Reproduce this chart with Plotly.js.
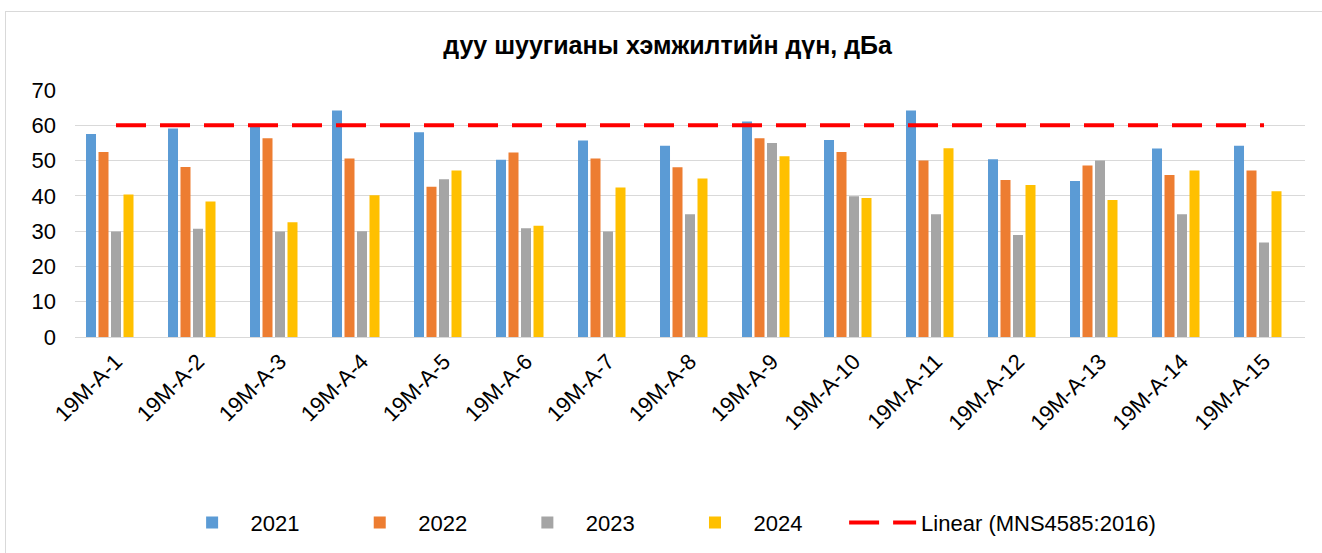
<!DOCTYPE html>
<html>
<head>
<meta charset="utf-8">
<script src="https://cdn.plot.ly/plotly-3.0.1.min.js"></script>
<style>
html,body{margin:0;padding:0;background:#fff;overflow:hidden;}
#wrap{position:relative;width:1322px;height:553px;}
#chart{position:absolute;left:0;top:0;width:1322px;height:553px;}
#frame{position:absolute;left:5px;top:11px;width:1330px;height:560px;border:1px solid #d9d9d9;pointer-events:none;box-sizing:border-box;}
</style>
</head>
<body>
<div id="wrap"><div id="chart"></div><div id="frame"></div></div>
<script>
const categories = ["19M-A-1","19M-A-2","19M-A-3","19M-A-4","19M-A-5","19M-A-6","19M-A-7","19M-A-8","19M-A-9","19M-A-10","19M-A-11","19M-A-12","19M-A-13","19M-A-14","19M-A-15"];
const values2021 = [57.5,59.1,59.5,64.2,58.0,50.2,55.7,54.2,61.1,55.8,64.2,50.4,44.2,53.4,54.2];
const values2022 = [52.4,48.2,56.3,50.6,42.6,52.3,50.6,48.1,56.3,52.4,50.0,44.5,48.6,45.9,47.2];
const values2023 = [29.9,30.7,29.9,30.0,44.7,30.8,29.9,34.8,55.0,39.9,34.8,28.9,50.0,34.8,26.8];
const values2024 = [40.4,38.4,32.5,40.2,47.2,31.5,42.4,44.9,51.2,39.4,53.5,43.1,38.8,47.2,41.3];
const mnsValues = [60,60,60,60,60,60,60,60,60,60,60,60,60,60,60];
const seriesNames = ["2021","2022","2023","2024"];
const seriesColors = ["#5B9BD5","#ED7D31","#A5A5A5","#FFC000"];
const trendName = "Linear (MNS4585:2016)";
const titleText = "дуу шуугианы хэмжилтийн дүн, дБа";

const allVals = [values2021, values2022, values2023, values2024];
const font = "Liberation Sans, Arial, sans-serif";
const pad = "\u00a0\u00a0\u00a0\u00a0\u00a0\u00a0";

const traces = allVals.map((v, i) => ({
  type: "bar",
  x: categories,
  y: v,
  name: seriesNames[i] + pad,
  marker: {color: seriesColors[i]},
  hoverinfo: "x+y"
}));
// hidden MNS4585:2016 series (no fill in the source), keeps bar group offset
traces.push({
  type: "bar",
  x: categories,
  y: mnsValues,
  name: "MNS4585:2016",
  marker: {color: "rgba(255,255,255,0)"},
  showlegend: false,
  hoverinfo: "skip"
});
// its linear trendline
traces.push({
  type: "scatter",
  mode: "lines",
  x: categories,
  y: mnsValues,
  name: trendName,
  line: {color: "#FF0000", width: 4, dash: "30px,14px"},
  hoverinfo: "skip"
});

const layout = {
  width: 1322,
  height: 553,
  margin: {l: 75, r: 17, t: 90, b: 216},
  paper_bgcolor: "rgba(0,0,0,0)",
  plot_bgcolor: "#fff",
  barmode: "group",
  bargap: 0.238,
  bargroupgap: 0.2,
  title: {
    text: "<b>" + titleText + "</b>",
    font: {family: font, size: 25, color: "#000"},
    x: 0.505, xref: "container", xanchor: "center",
    y: 51, yref: "container", yanchor: "middle"
  },
  xaxis: {
    type: "category",
    tickangle: -45,
    tickfont: {family: font, size: 22, color: "#000"},
    showgrid: false,
    showline: true,
    linecolor: "#D9D9D9",
    linewidth: 1,
    ticks: "",
    ticklabelstandoff: 2,
    fixedrange: true
  },
  yaxis: {
    range: [0, 70],
    dtick: 10,
    tickfont: {family: font, size: 22, color: "#000"},
    showgrid: true,
    gridcolor: "#D9D9D9",
    gridwidth: 1,
    zeroline: false,
    showline: false,
    ticks: "",
    ticklabelstandoff: 18,
    fixedrange: true
  },
  showlegend: true,
  legend: {
    orientation: "h",
    xref: "container", yref: "container",
    x: 0.505, xanchor: "center",
    y: 0.055, yanchor: "middle",
    font: {family: font, size: 22, color: "#000"},
    itemwidth: 67,
    traceorder: "normal",
    bgcolor: "rgba(0,0,0,0)"
  }
};

Plotly.newPlot("chart", traces, layout, {displayModeBar: false, staticPlot: true});
</script>
</body>
</html>
